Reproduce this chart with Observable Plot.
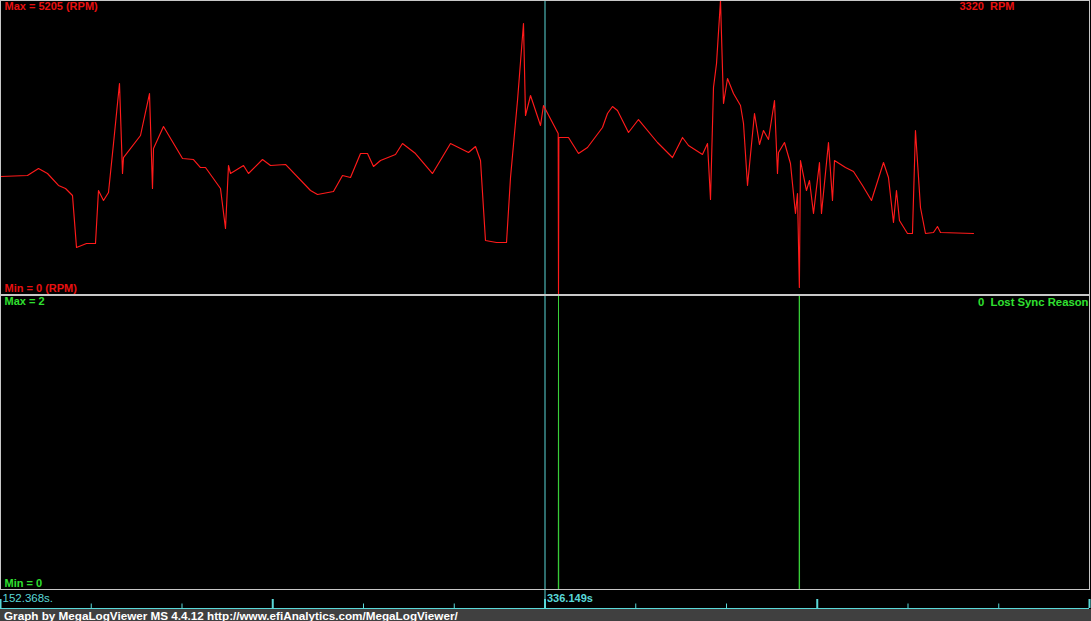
<!DOCTYPE html>
<html><head><meta charset="utf-8">
<script src="https://cdn.jsdelivr.net/npm/d3@7"></script>
<script src="https://cdn.jsdelivr.net/npm/@observablehq/plot@0.6"></script>
<style>
html,body{margin:0;padding:0;background:#000;}
#chart{position:relative;width:1091px;height:621px;background:#000;overflow:hidden;font-family:"Liberation Sans",Arial,sans-serif;}
.panel{position:absolute;left:0;}
.panel svg{display:block;}
#footer{position:absolute;left:0;top:609px;width:1091px;height:12px;background:#404040;color:#fff;font:bold 11.7px "Liberation Sans",Arial,sans-serif;line-height:13px;padding-left:4px;box-sizing:border-box;white-space:nowrap;overflow:hidden;}
</style></head><body><div id="chart"></div>
<script>
// ---- data ----
const timeStart = 152.368, cursorTime = 336.149, timeEnd = 519.93;
const rpmMax = 5205, rpmMin = 0, rpmAtCursor = 3320, rpmUnit = "RPM";
const syncMax = 2, syncMin = 0, syncAtCursor = 0, syncName = "Lost Sync Reason";
const footerText = "Graph by MegaLogViewer MS 4.4.12 http://www.efiAnalytics.com/MegaLogViewer/";

const rpmTime = [152.37,161.48,165.19,168.23,171.94,174.31,176.67,178.02,181.39,184.43,185.44,187.13,188.82,190.51,192.53,193.55,193.88,199.62,202.66,203.67,204.01,207.38,213.80,217.51,219.87,221.56,226.62,228.31,229.32,230.00,234.39,236.07,240.80,243.50,248.56,257.00,259.36,264.76,267.80,270.50,273.88,276.24,278.26,280.63,285.69,288.05,292.44,298.18,304.25,310.33,312.69,314.38,316.06,319.78,323.16,324.51,326.87,328.89,329.57,331.26,334.63,335.64,340.60,340.71,340.82,344.08,347.46,350.49,355.55,357.24,358.93,360.61,362.30,364.33,367.70,374.11,379.18,382.56,384.58,389.30,391.00,392.01,393.02,394.04,395.38,396.40,397.75,399.77,402.13,403.15,404.50,406.86,408.55,409.90,411.58,413.61,414.62,414.96,416.98,419.00,420.69,421.37,422.00,422.38,424.40,425.42,426.77,428.79,429.47,431.83,433.18,433.86,437.57,440.27,443.31,446.35,450.40,452.08,453.77,454.78,455.79,458.49,460.18,461.19,462.88,464.57,467.27,468.62,469.64,480.78];
const rpmValue = [2089,2107,2231,2142,1930,1877,1753,832,903,903,1841,1664,1806,2673,3736,2142,2425,2815,3558,1877,2585,2974,2408,2390,2248,2248,1877,1169,2284,2142,2284,2142,2390,2284,2302,1841,1770,1824,2107,2071,2496,2496,2266,2372,2479,2673,2496,2142,2673,2514,2620,2372,956,921,921,2071,3435,4798,3169,3523,2992,3346,2850,0,2780,2780,2496,2603,2957,3204,3328,3258,3080,2868,3098,2691,2425,2780,2638,2479,2673,1682,3665,4090,5205,3381,3824,3560,3346,3027,1930,3204,2656,2903,2744,3435,2142,2514,2691,2319,1434,1788,124,2372,1841,2018,1434,2337,1434,2691,1664,2372,2248,2178,1930,1664,2337,2071,1275,1841,1310,1080,1080,2903,1540,1080,1098,1204,1098,1080];

const syncTime = [152.368,340.65,340.71,340.77,421.94,422.00,422.06,480.78];
const syncValue = [0,0,2,0,0,2,0,0];

// ---- styles ----
const W = 1091;
const RED = "#ff1a1a", RED_TXT = "#e81010", GREEN = "#3ad03a", GREEN_TXT = "#30e030";
const CYAN = "#5ad8d8", GRAY = "#c8c8c8";
const FONT = "'Liberation Sans', Arial, sans-serif";

const rpmRows = rpmTime.map((t, i) => ({t, v: rpmValue[i]}));
const syncRows = syncTime.map((t, i) => ({t, v: syncValue[i]}));
const xScale = {domain: [timeStart, timeEnd], axis: null};
const base = {width: W, marginLeft: 0, marginRight: 2, marginTop: 0,
  style: {background: "transparent", overflow: "visible", fontFamily: FONT}};

const chart = document.getElementById("chart");
function place(node, top) {
  const d = document.createElement("div");
  d.className = "panel"; d.style.top = top + "px";
  d.appendChild(node); chart.appendChild(d);
}
const txt = (s, o) => Plot.text([s], {text: d => d, fontSize: 11, fontWeight: "bold", fontFamily: FONT, ...o});

// top panel: RPM
place(Plot.plot({...base, height: 295, marginBottom: 1,
  x: xScale, y: {domain: [rpmMin, rpmMax], axis: null},
  marks: [
    Plot.ruleX([cursorTime], {stroke: CYAN}),
    Plot.line(rpmRows, {x: "t", y: "v", stroke: RED, strokeWidth: 1.15}),
    Plot.frame({stroke: GRAY}),
    txt(`Max = ${rpmMax} (${rpmUnit})`, {frameAnchor: "top-left", dx: 4, dy: 2, lineAnchor: "top", textAnchor: "start", fill: RED_TXT}),
    txt(`${rpmAtCursor}  ${rpmUnit}`, {frameAnchor: "top-left", dx: 959, dy: 2, lineAnchor: "top", textAnchor: "start", fill: RED_TXT}),
    txt(`Min = ${rpmMin} (${rpmUnit})`, {frameAnchor: "bottom-left", dx: 4, dy: -3, lineAnchor: "bottom", textAnchor: "start", fill: RED_TXT})
  ]}), 0);

// bottom panel: Lost Sync Reason
place(Plot.plot({...base, height: 295, marginBottom: 1,
  x: xScale, y: {domain: [syncMin, syncMax], axis: null},
  marks: [
    Plot.ruleX([cursorTime], {stroke: CYAN}),
    Plot.line(syncRows, {x: "t", y: "v", stroke: GREEN, strokeWidth: 1}),
    Plot.frame({stroke: GRAY}),
    txt(`Max = ${syncMax}`, {frameAnchor: "top-left", dx: 4, dy: 2, lineAnchor: "top", textAnchor: "start", fill: GREEN_TXT}),
    txt(`${syncAtCursor}  ${syncName}`, {frameAnchor: "top-right", dx: -1, dy: 2, lineAnchor: "top", textAnchor: "end", fill: GREEN_TXT, fontSize: 11.3}),
    txt(`Min = ${syncMin}`, {frameAnchor: "bottom-left", dx: 4, dy: -3, lineAnchor: "bottom", textAnchor: "start", fill: GREEN_TXT})
  ]}), 295);

// time axis strip
const nTicks = 12;
const tickTimes = d3.range(nTicks + 1).map(i => timeStart + i * (timeEnd - timeStart) / nTicks);
const majorTicks = tickTimes.filter((t, i) => i % 3 === 0);
const minorTicks = tickTimes.filter((t, i) => i % 3 !== 0);
place(Plot.plot({...base, height: 19, marginTop: 9, marginBottom: 1,
  x: xScale, y: {domain: [0, 10], axis: null},
  marks: [
    Plot.ruleY([0], {stroke: CYAN}),
    Plot.ruleX(minorTicks, {y1: 0, y2: 5, stroke: CYAN}),
    Plot.ruleX(majorTicks, {y1: 0, y2: 10, stroke: CYAN, strokeWidth: 2}),
    Plot.ruleX([cursorTime], {y1: 0, y2: 20, stroke: CYAN}),
    Plot.text([`${timeStart.toFixed(3)}s.`], {text: d => d, frameAnchor: "top-left", dx: 2, dy: -6, lineAnchor: "top", textAnchor: "start", fill: CYAN, fontSize: 11.5, fontFamily: FONT, style: "letter-spacing:1.3px"}),
    Plot.text([`${cursorTime.toFixed(3)}s`], {text: d => d, x: d => cursorTime, frameAnchor: "top", dx: 2, dy: -5, lineAnchor: "top", textAnchor: "start", fill: CYAN, fontSize: 11, fontWeight: "bold", fontFamily: FONT})
  ]}), 590);

const f = document.createElement("div");
f.id = "footer"; f.textContent = footerText;
chart.appendChild(f);
</script>
</body></html>
